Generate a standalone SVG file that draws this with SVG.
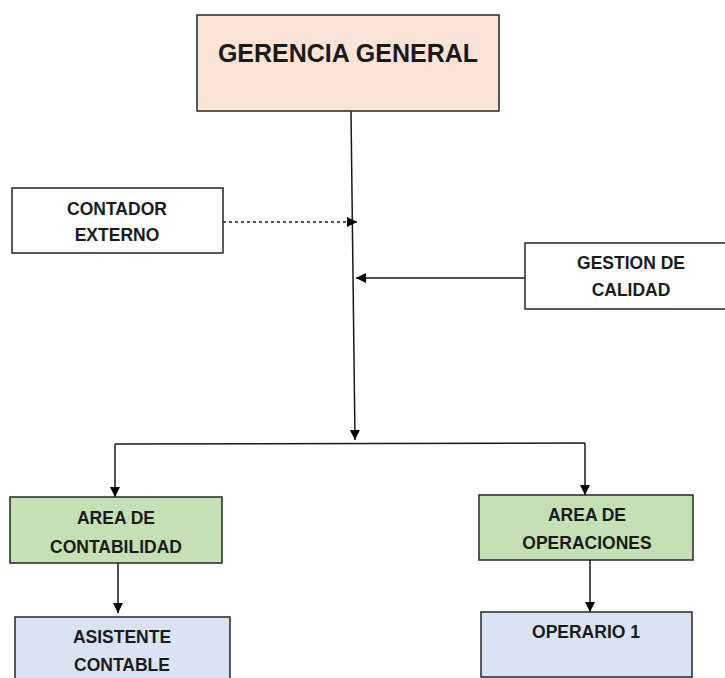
<svg xmlns="http://www.w3.org/2000/svg" width="725" height="678" viewBox="0 0 725 678">
<defs>
<marker id="ah" viewBox="0 0 10 10" refX="10" refY="5" markerWidth="10" markerHeight="10" markerUnits="userSpaceOnUse" orient="auto">
<path d="M0,0 L10,5 L0,10 z" fill="#000"/>
</marker>
<style>
.box{stroke:#262626;stroke-width:1.5}
.t{font-family:"Liberation Sans",Arial,sans-serif;font-weight:bold;font-size:17.5px;fill:#1a1a1a;text-anchor:middle}
.big{font-size:25px}
.c{fill:none;stroke:#1a1a1a;stroke-width:1.5}
</style>
</defs>
<rect width="725" height="678" fill="#fff"/>
<g id="connectors">
<path class="c" d="M351,111 L355,440" marker-end="url(#ah)"/>
<path class="c" d="M223,222 L357,222" stroke-dasharray="3,3" stroke-width="3" marker-end="url(#ah)"/>
<path class="c" d="M525,278 L356,278" marker-end="url(#ah)"/>
<path class="c" d="M115,444 L585,443"/>
<path class="c" d="M115,444 L115,497" marker-end="url(#ah)"/>
<path class="c" d="M585,443 L585,495" marker-end="url(#ah)"/>
<path class="c" d="M118,563 L118,613" marker-end="url(#ah)"/>
<path class="c" d="M590,560 L590,612" marker-end="url(#ah)"/>
</g>
<g id="gerencia">
<rect class="box" x="197" y="15" width="302" height="96" fill="#FBE4D5"/>
<text class="t big" x="348" y="62">GERENCIA GENERAL</text>
</g>
<g id="contador">
<rect class="box" x="12" y="188" width="211" height="65" fill="#fff"/>
<text class="t" x="117" y="215">CONTADOR</text>
<text class="t" x="117" y="241">EXTERNO</text>
</g>
<g id="gestion">
<rect class="box" x="525" y="243" width="212" height="66" fill="#fff"/>
<text class="t" x="631" y="269">GESTION DE</text>
<text class="t" x="631" y="296">CALIDAD</text>
</g>
<g id="contabilidad">
<rect class="box" x="10" y="497" width="212" height="66" fill="#C5E0B4"/>
<text class="t" x="116" y="524">AREA DE</text>
<text class="t" x="116" y="553">CONTABILIDAD</text>
</g>
<g id="operaciones">
<rect class="box" x="479" y="495" width="214" height="65" fill="#C5E0B4"/>
<text class="t" x="587" y="521">AREA DE</text>
<text class="t" x="587" y="549">OPERACIONES</text>
</g>
<g id="asistente">
<rect class="box" x="15" y="617" width="215" height="70" fill="#DAE3F3"/>
<text class="t" x="122" y="643">ASISTENTE</text>
<text class="t" x="122" y="671">CONTABLE</text>
</g>
<g id="operario">
<rect class="box" x="481" y="612" width="211" height="65" fill="#DAE3F3"/>
<text class="t" x="586" y="638">OPERARIO 1</text>
</g>
</svg>
